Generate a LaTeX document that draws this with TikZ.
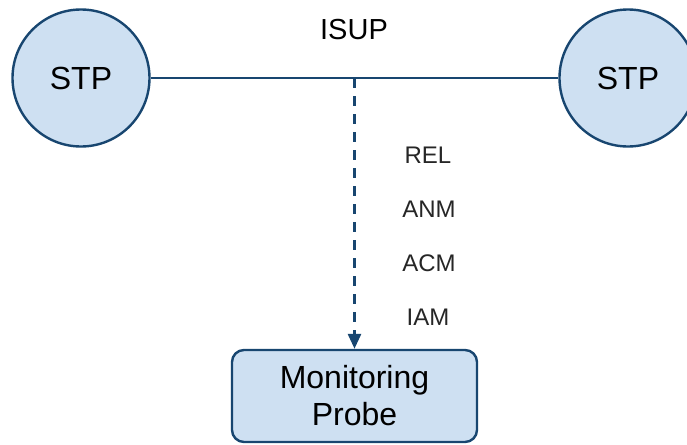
\documentclass[tikz,border=0pt]{standalone}
\usepackage{fontspec}
\setmainfont{Liberation Sans}
\usetikzlibrary{arrows.meta,shapes,calc}
\definecolor{stpfill}{RGB}{206,224,242}
\definecolor{stpline}{RGB}{24,70,112}
\tikzset{stp/.style={circle, draw=stpline, fill=stpfill, line width=1.2pt, minimum size=68.5pt, inner sep=0pt, font=\fontsize{16}{18}\selectfont},
  probe/.style={rectangle, rounded corners=6pt, draw=stpline, fill=stpfill, line width=1.2pt, minimum width=122.5pt, minimum height=46pt, align=center, font=\fontsize{16}{18.5}\selectfont},
  msg/.style={inner sep=0pt, text=black!85, font=\fontsize{12}{14}\selectfont},
  link/.style={draw=stpline, line width=1.4pt},
  tap/.style={draw=stpline, line width=1.4pt, dash pattern=on 5pt off 4pt, -{Triangle[length=7.5pt,width=6.5pt]}}}

\begin{document}
\begin{tikzpicture}[x=0.5pt,y=-0.5pt]
  \useasboundingbox (0,0) rectangle (687,445);
  \node[stp] (s1) at (81,78) {STP};
  \node[stp] (s2) at (628,78) {STP};
  \node[probe] (mp) at (354.5,396) {Monitoring\\Probe};
  \node[inner sep=0pt, font=\fontsize{14.5}{17}\selectfont] (isup) at (354,30) {ISUP};
  \node[msg] (rel) at (428,155) {REL};
  \node[msg] (anm) at (429,209) {ANM};
  \node[msg] (acm) at (429,263) {ACM};
  \node[msg] (iam) at (428,317) {IAM};
  \coordinate (t) at (mp.north |- s1);
  \draw[link] (s1) -- (s2);
  \draw[tap] (t) -- (mp);
\end{tikzpicture}
\end{document}
